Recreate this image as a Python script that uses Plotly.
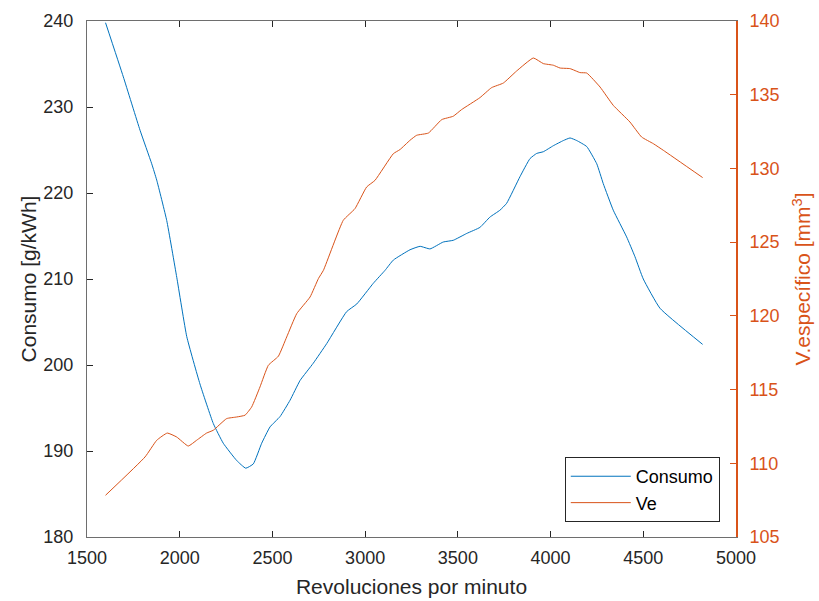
import plotly.graph_objects as go

# Engine speed sweep (rpm) and measured quantities
rpm_consumo = [1600, 1696, 1786, 1849, 1876, 1930, 1984, 2038, 2109, 2181, 2235, 2307,
               2356, 2397, 2442, 2487, 2541, 2595, 2649, 2720, 2793, 2900, 2955, 3044,
               3107, 3152, 3242, 3296, 3350, 3421, 3475, 3548, 3619, 3673, 3727, 3763,
               3835, 3889, 3925, 3961, 4015, 4069, 4105, 4141, 4195, 4249, 4284, 4338,
               4410, 4455, 4500, 4590, 4820]
consumo = [239.8, 233.5, 227.3, 223.4, 221.5, 216.8, 210.2, 203.3, 197.8, 193.2, 190.9, 188.9,
           188.0, 188.5, 190.9, 192.8, 194.0, 195.9, 198.2, 200.2, 202.5, 206.2, 207.1, 209.5,
           211.0, 212.2, 213.4, 213.8, 213.5, 214.3, 214.5, 215.3, 216.0, 217.2, 218.0, 218.8,
           221.9, 224.0, 224.6, 224.8, 225.5, 226.1, 226.4, 226.1, 225.4, 223.4, 221.1, 218.0,
           214.9, 212.6, 210.0, 206.6, 202.4]

rpm_ve = [1600, 1813, 1876, 1933, 1984, 2046, 2091, 2145, 2181, 2253, 2307, 2352,
          2388, 2433, 2478, 2532, 2577, 2631, 2703, 2748, 2775, 2882, 2945, 3008,
          3053, 3152, 3188, 3242, 3278, 3341, 3413, 3475, 3520, 3619, 3682, 3745,
          3817, 3907, 3961, 4015, 4051, 4105, 4159, 4195, 4267, 4338, 4428, 4491,
          4554, 4608, 4820]
ve = [107.83, 110.43, 111.56, 112.05, 111.78, 111.17, 111.56, 112.05, 112.24, 113.03, 113.14, 113.26,
      113.82, 115.18, 116.65, 117.26, 118.57, 120.15, 121.28, 122.53, 123.09, 126.48, 127.27, 128.74,
      129.19, 131.0, 131.28, 131.91, 132.25, 132.40, 133.31, 133.54, 133.99, 134.80, 135.48, 135.79,
      136.61, 137.49, 137.11, 137.0, 136.81, 136.77, 136.50, 136.47, 135.52, 134.28, 133.15, 132.13,
      131.68, 131.23, 129.38]

BLUE = "#0072BD"
ORANGE = "#D95319"
AXIS = "#262626"
FONT = "Liberation Sans, Arial, Helvetica, sans-serif"

fig = go.Figure()
fig.add_trace(go.Scatter(x=rpm_consumo, y=consumo, name="Consumo", mode="lines",
                         line=dict(color=BLUE, width=1, shape="spline", smoothing=0.4),
                         yaxis="y"))
fig.add_trace(go.Scatter(x=rpm_ve, y=ve, name="Ve", mode="lines",
                         line=dict(color=ORANGE, width=1, shape="spline", smoothing=0.4),
                         yaxis="y2"))

fig.update_layout(
    width=819, height=601,
    margin=dict(l=87, r=83, t=21, b=64),
    paper_bgcolor="white", plot_bgcolor="white",
    font=dict(family=FONT, size=18, color=AXIS),
    showlegend=True,
    legend=dict(x=0.975, y=0.029, xanchor="right", yanchor="bottom",
                bgcolor="white", bordercolor=AXIS, borderwidth=1,
                font=dict(size=18, color="black"), itemwidth=60,
                tracegroupgap=0),
    xaxis=dict(range=[1500, 5000], dtick=500, tick0=1500, automargin=False,
               showgrid=False, zeroline=False,
               showline=True, linecolor="#6e6e6e", linewidth=1, mirror="ticks",
               ticks="inside", ticklen=6, tickcolor=AXIS, tickwidth=1,
               tickfont=dict(size=18, color=AXIS), ticklabelstandoff=4,
               title=dict(text="Revoluciones por minuto", font=dict(size=21, color=AXIS), standoff=12)),
    yaxis=dict(range=[180, 240], dtick=10, automargin=False,
               showgrid=False, zeroline=False,
               showline=True, linecolor="#6e6e6e", linewidth=1,
               ticks="inside", ticklen=6, tickcolor=AXIS, tickwidth=1,
               tickfont=dict(size=18, color=AXIS), ticklabelstandoff=9,
               title=dict(text="Consumo [g/kWh]", font=dict(size=21, color=AXIS), standoff=1)),
    yaxis2=dict(range=[105, 140], dtick=5, overlaying="y", side="right", automargin=False,
                showgrid=False, zeroline=False,
                showline=True, linecolor=ORANGE, linewidth=2,
                ticks="inside", ticklen=6, tickcolor=ORANGE, tickwidth=1,
                tickfont=dict(size=18, color=ORANGE), ticklabelstandoff=8,
                title=dict(text="V.específico [mm<sup>3</sup>]", font=dict(size=21, color=ORANGE),
                           standoff=17)),
)

fig.write_html("out.html")
